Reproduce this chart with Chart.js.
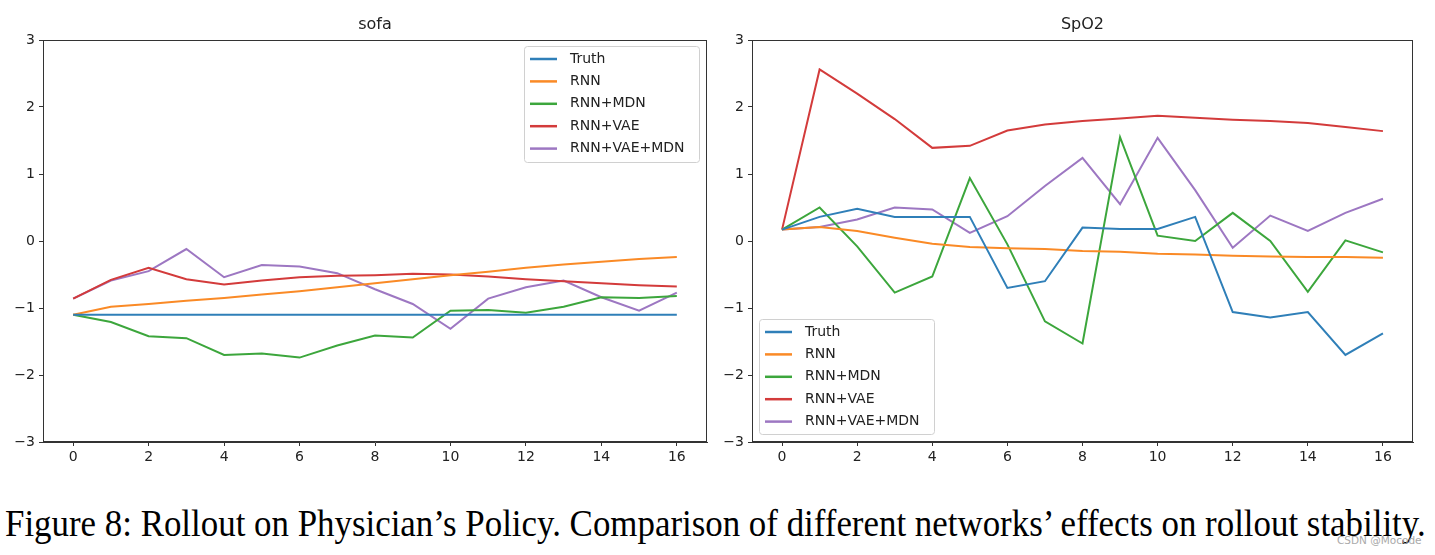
<!DOCTYPE html>
<html>
<head>
<meta charset="utf-8">
<script src="https://cdn.jsdelivr.net/npm/chart.js@4.4.1/dist/chart.umd.min.js"></script>
<style>
  body { margin: 0; background: #fff; width: 1435px; height: 555px; position: relative; overflow: hidden; }
  canvas { position: absolute; top: 0; }
  #sofa { left: 0; }
  #spo2 { left: 720px; }
  #caption { position: absolute; left: 5px; top: 501px; font-family: "Liberation Serif", serif; font-size: 38px; color: #000; white-space: nowrap; transform: scaleX(0.918); transform-origin: 0 0; }
  #mark { position: absolute; left: 1337px; top: 534px; font-family: "DejaVu Sans", sans-serif; font-size: 10.5px; color: #aaa; }
</style>
</head>
<body>
<canvas id="sofa" width="720" height="470"></canvas>
<canvas id="spo2" width="715" height="470"></canvas>
<div id="caption">Figure 8: Rollout on Physician’s Policy. Comparison of different networks’ effects on rollout stability.</div>
<div id="mark">CSDN @Mocode</div>
<script>
// time steps and series names
var steps = [0, 1, 2, 3, 4, 5, 6, 7, 8, 9, 10, 11, 12, 13, 14, 15, 16];
var names = ['Truth', 'RNN', 'RNN+MDN', 'RNN+VAE', 'RNN+VAE+MDN'];
var colors = ['#2f7fb8', '#fa8a26', '#3ca63c', '#d33b3b', '#9d77c2'];
var yTicks = [-3, -2, -1, 0, 1, 2, 3];

// sofa panel
var sofaTruth  = [-1.1, -1.1, -1.1, -1.1, -1.1, -1.1, -1.1, -1.1, -1.1, -1.1, -1.1, -1.1, -1.1, -1.1, -1.1, -1.1, -1.1];
var sofaRnn    = [-1.1, -0.98, -0.94, -0.89, -0.85, -0.80, -0.75, -0.69, -0.63, -0.57, -0.51, -0.46, -0.40, -0.35, -0.31, -0.27, -0.24];
var sofaMdn    = [-1.1, -1.21, -1.42, -1.45, -1.70, -1.68, -1.74, -1.56, -1.41, -1.44, -1.04, -1.03, -1.07, -0.98, -0.84, -0.85, -0.82];
var sofaVae    = [-0.86, -0.58, -0.40, -0.57, -0.65, -0.59, -0.54, -0.52, -0.51, -0.49, -0.50, -0.53, -0.57, -0.60, -0.63, -0.66, -0.68];
var sofaVaeMdn = [-0.86, -0.59, -0.45, -0.12, -0.54, -0.36, -0.38, -0.48, -0.72, -0.94, -1.31, -0.86, -0.69, -0.59, -0.84, -1.04, -0.77];

// SpO2 panel
var spoTruth  = [0.17, 0.36, 0.48, 0.36, 0.36, 0.36, -0.70, -0.60, 0.20, 0.18, 0.18, 0.36, -1.06, -1.14, -1.06, -1.70, -1.38];
var spoRnn    = [0.17, 0.21, 0.15, 0.05, -0.04, -0.09, -0.11, -0.12, -0.15, -0.16, -0.19, -0.20, -0.22, -0.23, -0.24, -0.24, -0.25];
var spoMdn    = [0.17, 0.50, -0.08, -0.77, -0.53, 0.94, -0.05, -1.20, -1.53, 1.55, 0.08, 0.00, 0.42, 0.00, -0.76, 0.01, -0.17];
var spoVae    = [0.17, 2.56, 2.20, 1.82, 1.39, 1.42, 1.65, 1.74, 1.79, 1.83, 1.87, 1.84, 1.81, 1.79, 1.76, 1.70, 1.64];
var spoVaeMdn = [0.17, 0.21, 0.32, 0.50, 0.47, 0.12, 0.37, 0.82, 1.24, 0.55, 1.54, 0.76, -0.10, 0.38, 0.15, 0.42, 0.63];

var tickFont = { family: 'DejaVu Sans', size: 14 };

function makeSets(series) {
  return series.map(function (vals, i) {
    return {
      label: names[i],
      data: vals.map(function (v, j) { return { x: steps[j], y: v }; }),
      borderColor: colors[i],
      backgroundColor: colors[i],
      borderWidth: 2,
      pointRadius: 0,
      tension: 0,
      fill: false
    };
  });
}

// frame, title and legend drawn inside the plot like matplotlib
var panelDeco = {
  id: 'panelDeco',
  afterDraw: function (chart, args, o) {
    var ctx = chart.ctx, a = chart.chartArea;
    ctx.save();
    ctx.strokeStyle = '#333';
    ctx.lineWidth = 1;
    ctx.strokeRect(a.left + 0.5, a.top + 0.5, a.right - a.left - 1, a.bottom - a.top - 1);

    ctx.fillStyle = '#222';
    ctx.font = '16px "DejaVu Sans"';
    ctx.textAlign = 'center';
    ctx.textBaseline = 'alphabetic';
    ctx.fillText(o.title, (a.left + a.right) / 2, o.titleY);

    var b = o.legend;
    ctx.textBaseline = 'middle';
    ctx.fillStyle = 'rgba(255,255,255,0.8)';
    ctx.strokeStyle = '#d0d0d0';
    ctx.beginPath();
    ctx.roundRect(b.x + 0.5, b.y + 0.5, b.w, b.h, 3);
    ctx.fill();
    ctx.stroke();
    ctx.font = '14px "DejaVu Sans"';
    ctx.textAlign = 'left';
    chart.data.datasets.forEach(function (ds, i) {
      var y = b.y + b.first + i * b.gap;
      ctx.strokeStyle = ds.borderColor;
      ctx.lineWidth = 2.5;
      ctx.beginPath();
      ctx.moveTo(b.x + 6, y);
      ctx.lineTo(b.x + 33, y);
      ctx.stroke();
      ctx.fillStyle = '#222';
      ctx.fillText(ds.label, b.x + 46, y);
    });
    ctx.restore();
  }
};

function makeChart(id, series, yWidth, padRight, title, legend) {
  return new Chart(document.getElementById(id), {
    type: 'line',
    data: { datasets: makeSets(series) },
    plugins: [panelDeco],
    options: {
      responsive: false,
      animation: false,
      layout: { padding: { top: 40, right: padRight, left: 0, bottom: 0 } },
      plugins: {
        legend: { display: false },
        tooltip: { enabled: false },
        panelDeco: { title: title, titleY: 29, legend: legend }
      },
      scales: {
        x: {
          type: 'linear', min: -0.8, max: 16.8,
          afterBuildTicks: function (s) { s.ticks = [0, 2, 4, 6, 8, 10, 12, 14, 16].map(function (v) { return { value: v }; }); },
          afterFit: function (s) { s.height = 28; },
          grid: { drawOnChartArea: false, drawTicks: true, tickLength: 4, color: '#333' },
          border: { display: true, color: '#333' },
          ticks: { font: tickFont, color: '#222', padding: 3, maxRotation: 0 }
        },
        y: {
          type: 'linear', min: -3, max: 3,
          afterBuildTicks: function (s) { s.ticks = yTicks.map(function (v) { return { value: v }; }); },
          afterFit: function (s) { s.width = yWidth; },
          grid: { drawOnChartArea: false, drawTicks: true, tickLength: 4, color: '#333' },
          border: { display: true, color: '#333' },
          ticks: {
            font: tickFont, color: '#222', padding: 4,
            callback: function (v) { return String(v).replace('-', '\u2212'); }
          }
        }
      }
    }
  });
}

makeChart('sofa', [sofaTruth, sofaRnn, sofaMdn, sofaVae, sofaVaeMdn], 43, 13, 'sofa',
  { x: 524, y: 46, w: 175, h: 116, first: 13, gap: 22.4 });
makeChart('spo2', [spoTruth, spoRnn, spoMdn, spoVae, spoVaeMdn], 32, 22, 'SpO2',
  { x: 39, y: 319, w: 175, h: 115, first: 13, gap: 22.4 });
</script>
</body>
</html>
